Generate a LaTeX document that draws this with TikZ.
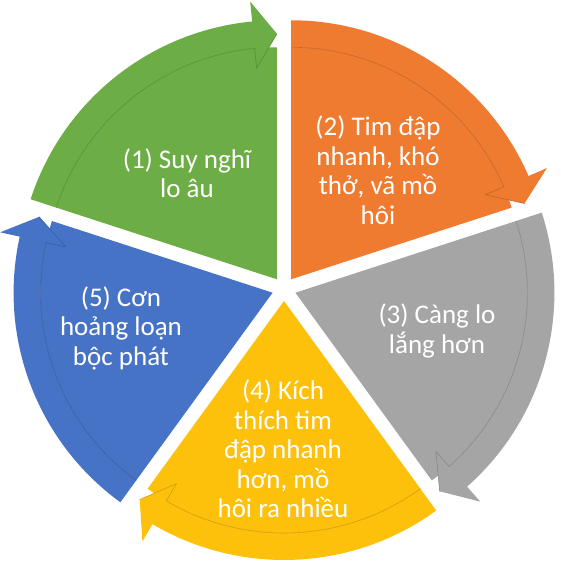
\documentclass[tikz,border=0pt]{standalone}
\usepackage{fontspec}
\setmainfont{Carlito}

\definecolor{segGreen}{HTML}{6CAD46}
\definecolor{segOrange}{HTML}{EE7B30}
\definecolor{segGray}{HTML}{A5A5A5}
\definecolor{segYellow}{HTML}{FDC10C}
\definecolor{segBlue}{HTML}{4673C6}

\tikzset{
  seglabel/.style={text=white, align=center, inner sep=0pt,
    font=\fontsize{27}{29.5}\selectfont},
}

\begin{document}
\begin{tikzpicture}[x=1pt,y=1pt]
   \useasboundingbox[fill=white] (-284,-279) rectangle (276,289);
   % five exploded wedges, each with a clockwise arrow on its rim
   \foreach \s/\col in {162/segGreen, 90/segOrange, 18/segGray, -54/segYellow, -126/segBlue}
   {
     \pgfmathsetmacro{\e}{\s-72}
     \pgfmathsetmacro{\b}{\s-36}
     \pgfmathsetmacro{\h}{\e+5.5}
     \begin{scope}[shift={(\b:12)}]
       \fill[\col] (0,0) -- (\s:232) arc[start angle=\s, end angle=\e, radius=232] -- cycle;
       \fill[\col] (\s:259) arc[start angle=\s, end angle=\h, radius=259]
         -- (\h:279) -- (\e:245.5) -- (\h:212) -- (\h:232)
         arc[start angle=\h, end angle=\s, radius=232] -- cycle;
       \draw[\col!82!black, line width=0.6pt]
         (\s:232) arc[start angle=\s, end angle=\h, radius=232] -- (\h:212) -- (\e:245.5);
     \end{scope}
   }
   \path (-97,116) node[seglabel] (think) {(1) Suy nghĩ\\lo âu};
   \path (94,119) node[seglabel] (heart) {(2) Tim đập\\nhanh, khó\\thở, vã mồ\\hôi};
   \path (153,-42) node[seglabel] (worry) {(3) Càng lo\\lắng hơn};
   \path (-1,-160) node[seglabel] (stim) {(4) Kích\\thích tim\\đập nhanh\\hơn, mồ\\hôi ra nhiều};
   \path (-163,-39) node[seglabel] (panic) {(5) Cơn\\hoảng loạn\\bộc phát};
\end{tikzpicture}
\end{document}
